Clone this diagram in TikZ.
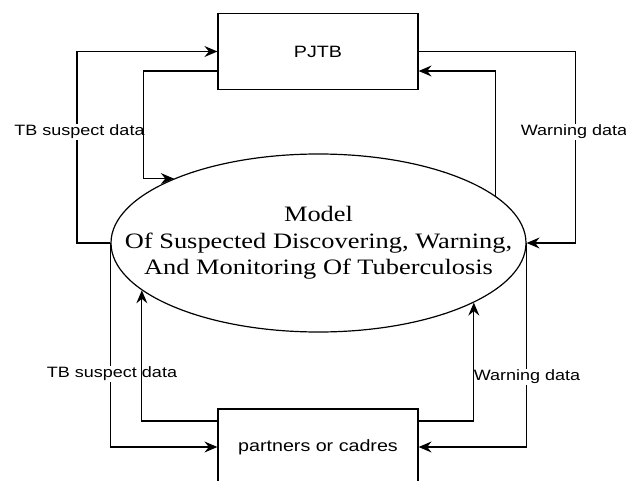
\documentclass[tikz,border=0pt]{standalone}
\usepackage{fontspec}
\usetikzlibrary{shapes.geometric,arrows.meta}
\newfontfamily\labfont{Liberation Sans}[FakeStretch=1.2]
\newfontfamily\modfont{Liberation Serif}[FakeStretch=1.2]
\begin{document}
\begin{tikzpicture}[x=1pt,y=-1pt,
  box/.style={draw, line width=1.2pt, minimum width=200pt, minimum height=76pt, inner sep=0pt,
    font=\labfont\fontsize{16.4}{19}\selectfont},
  lab/.style={fill=white, inner sep=1pt, font=\labfont\fontsize{15}{18}\selectfont},
  arr/.style={line width=1.2pt, -{Stealth[length=13pt,width=11pt,inset=4.5pt]}},
  ]
\clip (0,0) rectangle (626,481);
\node[box] (pjtb) at (318,51.5) {PJTB};
\node[box] (partners) at (318,447) {partners or cadres};
\node[draw, ellipse, line width=1.2pt, minimum width=415pt, minimum height=178pt, inner sep=0pt] (model) at (318.5,243) {};
\node[align=center, inner sep=0pt, font=\modfont\fontsize{22}{26.6}\selectfont] (modeltext) at (model.center)
  {Model\\Of Suspected Discovering, Warning,\\And Monitoring Of Tuberculosis};
% outer connectors
\draw[arr] (model.west) -- ++(-33.5,0) |- (pjtb.west);
\draw[arr] (pjtb.east) -- ++(157,0) |- (model.east);
\draw[arr] (model.west) |- (partners.west);
\draw[arr] (model.east) |- (partners.east);
% labels
\node[lab] (l1) at (79.5,132) {TB suspect data};
\node[lab] (l2) at (574,132) {Warning data};
\node[lab] (l3) at (112,374) {TB suspect data};
\node[lab] (l4) at (527,377) {Warning data};
% inner connectors
\draw[arr] ([yshift=-19.5pt]pjtb.west) -- ++(-74,0) |- (model.156.7);
\draw[arr] (model.15.6) |- ([yshift=-19.5pt]pjtb.east);
\draw[arr] ([yshift=26pt]partners.west) -| (model.195.6);
\draw[arr] ([yshift=26pt]partners.east) -| (model.339.8);
\end{tikzpicture}
\end{document}
